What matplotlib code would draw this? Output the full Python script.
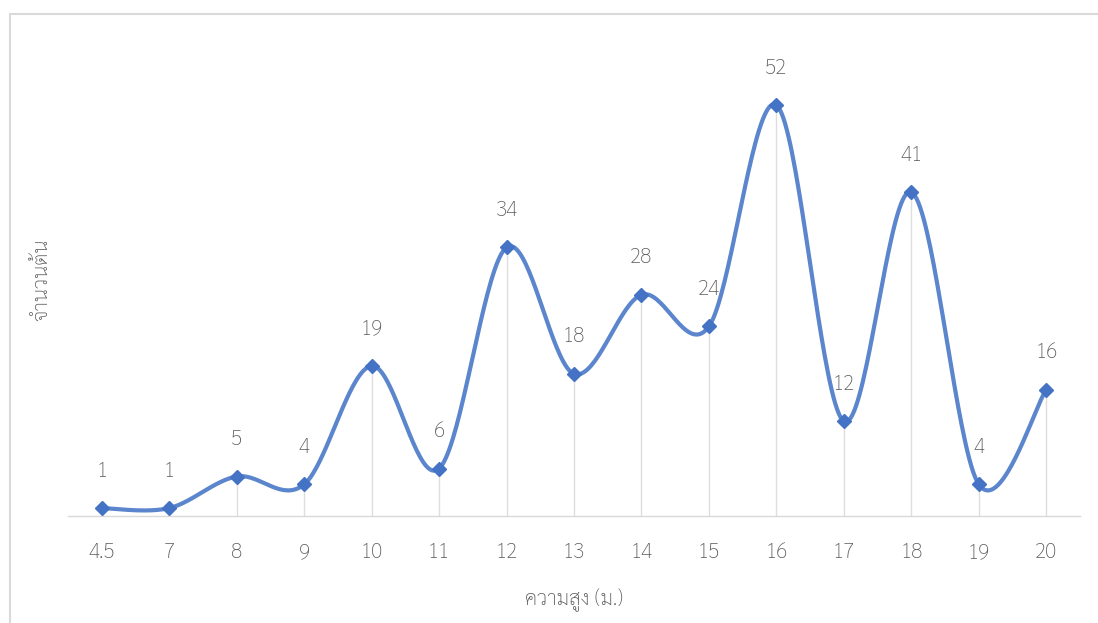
import numpy as np
import matplotlib
matplotlib.use('Agg')
from matplotlib import pyplot as plt
from matplotlib.patches import Rectangle

plt.rcParams['font.family'] = ['Sarabun', 'DejaVu Sans']
plt.rcParams['font.weight'] = 'light'

categories = ['4.5', '7', '8', '9', '10', '11', '12', '13', '14', '15', '16', '17', '18', '19', '20']
counts = [1, 1, 5, 4, 19, 6, 34, 18, 28, 24, 52, 12, 41, 4, 16]

W, H = 1098, 623
fig = plt.figure(figsize=(W / 100, H / 100), dpi=100)
ax = fig.add_axes([68 / W, 1 - 516 / H, (1080 - 68) / W, (516 - 42) / H])

x = np.arange(len(counts), dtype=float)
y = np.array(counts, dtype=float)
ymax = 60

# excel style smoothing (catmull-rom bezier), done in pixel space
sx = (1080 - 68) / len(counts)
sy = (516 - 42) / ymax
px, py = x * sx, y * sy
P = np.column_stack([px, py])
P = np.vstack([P[0], P, P[-1]])
t = np.linspace(0, 1, 40)[:, None]
curve = []
for i in range(1, len(P) - 2):
    p0, p3 = P[i], P[i + 1]
    c1 = p0 + (P[i + 1] - P[i - 1]) / 6
    c2 = p3 - (P[i + 2] - P[i]) / 6
    seg = (1 - t) ** 3 * p0 + 3 * (1 - t) ** 2 * t * c1 + 3 * (1 - t) * t ** 2 * c2 + t ** 3 * p3
    curve.append(seg)
curve = np.vstack(curve)

ax.vlines(x, 0, y, color='#DEDEDE', lw=1.0, zorder=1)
ax.plot(curve[:, 0] / sx, curve[:, 1] / sy, color='#5B85CC', lw=3, zorder=2, solid_capstyle='round')
ax.plot(x, y, 'D', color='#4472C4', ms=7.5, zorder=3)

for xi, yi in zip(x, counts):
    ax.annotate(str(yi), (xi, yi), xytext=(0, 37), textcoords='offset pixels',
                ha='center', va='center', fontsize=15, color='#595959')

ax.set_xlim(-0.5, len(counts) - 0.5)
ax.set_ylim(0, ymax)
ax.set_xticks(x)
ax.set_xticklabels(categories)
ax.tick_params(axis='x', length=0, pad=19, labelsize=15, labelcolor='#595959')
ax.set_yticks([])
for s in ['top', 'right', 'left']:
    ax.spines[s].set_visible(False)
ax.spines['bottom'].set_color('#D9D9D9')
ax.spines['bottom'].set_linewidth(1.0)

fig.text(574 / W, 1 - 600 / H, 'ความสูง (ม.)', ha='center', va='center', fontsize=15, color='#595959')
fig.text(42 / W, 1 - 280 / H, 'จำนวนต้น', ha='center', va='center', rotation=90, fontsize=15, color='#595959')

# chart area border
fig.patches.append(Rectangle((10 / W, -0.1), 1.2, 1 - 14 / H + 0.1, transform=fig.transFigure,
                             fill=False, edgecolor='#D9D9D9', lw=1.5))

fig.savefig('out.png', dpi=100)
